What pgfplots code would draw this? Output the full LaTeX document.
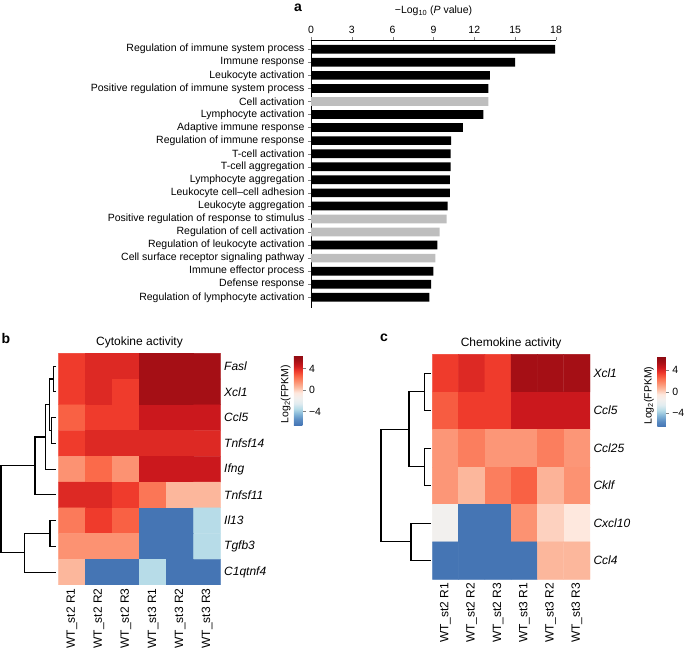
\documentclass[border=0pt]{standalone}
\usepackage{pgfplots}
\pgfplotsset{compat=1.18}
\usepackage{fontspec}
\setmainfont{Liberation Sans}

\definecolor{bargrey}{RGB}{190,190,190}
\definecolor{dendro}{RGB}{35,35,35}

\pgfplotsset{
  /pgf/number format/assume math mode=true,
  colormap={hm}{
    rgb255(0pt)=(69,117,180);   rgb255(10pt)=(90,140,195);
    rgb255(20pt)=(130,180,215); rgb255(30pt)=(183,220,232);
    rgb255(40pt)=(225,236,240); rgb255(50pt)=(242,240,238);
    rgb255(60pt)=(254,232,222); rgb255(70pt)=(252,187,161);
    rgb255(80pt)=(252,146,114); rgb255(90pt)=(251,106,74);
    rgb255(100pt)=(239,59,44);  rgb255(110pt)=(203,24,29);
    rgb255(120pt)=(165,15,21);  rgb255(130pt)=(140,10,18)},
  heat/.style={
    scale only axis,
    xmin=-0.5, xmax=5.5, y dir=reverse,
    axis line style={draw=none}, major tick length=0pt,
    xtick={0,...,5},
    xticklabels={WT\_st2 R1, WT\_st2 R2, WT\_st2 R3, WT\_st3 R1, WT\_st3 R2, WT\_st3 R3},
    xticklabel style={rotate=90, anchor=east, font=\fontsize{12}{14}\selectfont},
    yticklabel pos=right,
    yticklabel style={font=\fontsize{12}{14}\selectfont\itshape},
    title style={font=\fontsize{12}{14}\selectfont, yshift=-4pt},
    colormap name=hm, point meta min=-6.5, point meta max=6.5,
    colorbar, colorbar/width=8.5pt, colorbar shift/.style={},
  },
  cbar/.style={
    scale only axis, height=70pt,
    axis line style={draw=none},
    ytick={-4,0,4}, yticklabels={−4,0,4},
    ytick pos=right, yticklabel pos=right,
    tick align=outside, major tick length=3pt,
    yticklabel style={font=\fontsize{10.5}{12}\selectfont},
    ylabel={Log\textsubscript{2}(FPKM)},
    ylabel style={at={(axis description cs:0,0.5)}, anchor=south, xshift=-4pt,
      font=\fontsize{10.5}{12}\selectfont},
  },
  dendro/.style={scale only axis, hide axis, clip=false, y dir=reverse},
}

\begin{document}
\begin{tikzpicture}
\useasboundingbox (0,0) rectangle (685pt,651pt);

% panel labels
\node[font=\fontsize{14}{16}\selectfont\bfseries] at (298pt,643pt) {a};
\node[font=\fontsize{14}{16}\selectfont\bfseries] at (6pt,313pt) {b};
\node[font=\fontsize{14}{16}\selectfont\bfseries] at (384pt,313pt) {c};

% ---- a: GO terms
\begin{axis}[
  at={(311pt,611pt)}, anchor=north west,
  scale only axis, width=245pt, height=268pt,
  xmin=0, xmax=18, ymin=0.29, ymax=20.82, y dir=reverse,
  axis x line*=top, axis y line*=left,
  xtick={0,3,...,18}, ytick={1,...,20},
  yticklabels={Regulation of immune system process, Immune response,
    Leukocyte activation, Positive regulation of immune system process,
    Cell activation, Lymphocyte activation, Adaptive immune response,
    Regulation of immune response, T-cell activation, T-cell aggregation,
    Lymphocyte aggregation, Leukocyte cell--cell adhesion,
    Leukocyte aggregation, Positive regulation of response to stimulus,
    Regulation of cell activation, Regulation of leukocyte activation,
    Cell surface receptor signaling pathway, Immune effector process,
    Defense response, Regulation of lymphocyte activation},
  tick align=outside, major tick length=3pt,
  tick label style={font=\fontsize{10.5}{12}\selectfont},
  xlabel={−Log\textsubscript{10} (\textit{P} value)},
  xlabel style={font=\fontsize{10.5}{12}\selectfont, yshift=3pt},
  xbar, bar shift=0pt, bar width=8.7pt,
]
\addplot[fill=black, draw=none] coordinates {
  (17.93,1) (14.99,2) (13.15,3) (13.03,4) (12.66,6) (11.15,7) (10.29,8)
  (10.26,9) (10.26,10) (10.21,11) (10.21,12) (10.04,13) (9.28,16)
  (8.99,18) (8.82,19) (8.69,20)};
\addplot[fill=bargrey, draw=none] coordinates {
  (13.03,5) (9.97,14) (9.45,15) (9.13,17)};
\end{axis}

% ---- b: cytokine activity
\begin{axis}[heat,
  at={(58.3pt,297.7pt)}, anchor=north west,
  width=162.4pt, height=231.7pt,
  ymin=-0.5, ymax=8.5, ytick={0,...,8},
  yticklabels={Fasl, Xcl1, Ccl5, Tnfsf14, Ifng, Tnfsf11, Il13, Tgfb3, C1qtnf4},
  title={Cytokine activity},
  colorbar style={cbar, at={(parent axis.north east)}, anchor=north west,
    xshift=73.3pt, yshift=-1.7pt},
]
\addplot[matrix plot*, mesh/cols=6, point meta=explicit]
  table[x=x, y=y, meta=v, row sep=\\] {
x y v\\
0 0 3.5\\ 1 0 4\\ 2 0 4\\ 3 0 5.5\\ 4 0 5.5\\ 5 0 5.5\\
0 1 3.5\\ 1 1 4\\ 2 1 3.5\\ 3 1 5.5\\ 4 1 5.5\\ 5 1 5.5\\
0 2 2.7\\ 1 2 3.5\\ 2 2 3.5\\ 3 2 4.5\\ 4 2 4.5\\ 5 2 4.5\\
0 3 3.5\\ 1 3 4\\ 2 3 4\\ 3 3 4\\ 4 3 4\\ 5 3 4\\
0 4 1.5\\ 1 4 2.5\\ 2 4 1.5\\ 3 4 4.5\\ 4 4 4.5\\ 5 4 4.5\\
0 5 4\\ 1 5 4\\ 2 5 3.5\\ 3 5 2.2\\ 4 5 0.6\\ 5 5 0.6\\
0 6 2.1\\ 1 6 3.5\\ 2 6 2.7\\ 3 6 -6.5\\ 4 6 -6.5\\ 5 6 -3.5\\
0 7 1.5\\ 1 7 1.5\\ 2 7 1.5\\ 3 7 -6.5\\ 4 7 -6.5\\ 5 7 -3.5\\
0 8 0.6\\ 1 8 -6.5\\ 2 8 -6.5\\ 3 8 -3.5\\ 4 8 -6.5\\ 5 8 -6.5\\
};
\end{axis}

\begin{axis}[dendro,
  at={(0pt,297.7pt)}, anchor=north west,
  width=58.3pt, height=231.7pt,
  xmin=0, xmax=58.3, ymin=-0.5, ymax=8.5,
]
\addplot[dendro, line width=1.1pt] coordinates {(56,0) (53.3,0) (53.3,1) (56,1)};
\addplot[dendro, line width=1.1pt] coordinates {(56,2) (51.7,2) (51.7,3) (56,3)};
\addplot[dendro, line width=1.1pt] coordinates {(53.3,0.5) (49.3,0.5) (49.3,2.5) (51.7,2.5)};
\addplot[dendro, line width=1.1pt] coordinates {(49.3,1.5) (45.7,1.5) (45.7,4) (56,4)};
\addplot[dendro, line width=1.1pt] coordinates {(45.7,2.75) (35,2.75) (35,5) (56,5)};
\addplot[dendro, line width=1.1pt] coordinates {(56,6) (50,6) (50,7) (56,7)};
\addplot[dendro, line width=1.1pt] coordinates {(50,6.5) (24.3,6.5) (24.3,8) (56,8)};
\addplot[dendro, line width=1.1pt] coordinates {(35,3.875) (1,3.875) (1,7.25) (24.3,7.25)};
\end{axis}

% ---- c: chemokine activity
\begin{axis}[heat,
  at={(432.3pt,296.7pt)}, anchor=north west,
  width=157.7pt, height=225pt,
  ymin=-0.5, ymax=5.5, ytick={0,...,5},
  yticklabels={Xcl1, Ccl5, Ccl25, Cklf, Cxcl10, Ccl4},
  title={Chemokine activity},
  colorbar style={cbar, at={(parent axis.north east)}, anchor=north west,
    xshift=67.3pt, yshift=-2.4pt},
]
\addplot[matrix plot*, mesh/cols=6, point meta=explicit]
  table[x=x, y=y, meta=v, row sep=\\] {
x y v\\
0 0 3.5\\ 1 0 4\\ 2 0 3.5\\ 3 0 5.5\\ 4 0 5.5\\ 5 0 5.5\\
0 1 2.8\\ 1 1 3.5\\ 2 1 3.5\\ 3 1 4.5\\ 4 1 4.5\\ 5 1 4.5\\
0 2 1.4\\ 1 2 2\\ 2 2 1.4\\ 3 2 1.4\\ 4 2 2\\ 5 2 1.4\\
0 3 1.4\\ 1 3 0.6\\ 2 3 2\\ 3 3 2.7\\ 4 3 0.7\\ 5 3 1.5\\
0 4 -1.5\\ 1 4 -6.5\\ 2 4 -6.5\\ 3 4 1.5\\ 4 4 0\\ 5 4 -0.5\\
0 5 -6.5\\ 1 5 -6.5\\ 2 5 -6.5\\ 3 5 -6.5\\ 4 5 0.6\\ 5 5 0.6\\
};
\end{axis}

\begin{axis}[dendro,
  at={(375pt,296.7pt)}, anchor=north west,
  width=57.3pt, height=225pt,
  xmin=375, xmax=432.3, ymin=-0.5, ymax=5.5,
]
\addplot[dendro, line width=1.1pt] coordinates {(431,0) (424.3,0) (424.3,1) (431,1)};
\addplot[dendro, line width=1.1pt] coordinates {(431,2) (424.3,2) (424.3,3) (431,3)};
\addplot[dendro, line width=1.1pt] coordinates {(424.3,0.5) (409,0.5) (409,2.5) (424.3,2.5)};
\addplot[dendro, line width=1.1pt] coordinates {(431,4) (411,4) (411,5) (431,5)};
\addplot[dendro, line width=1.1pt] coordinates {(409,1.5) (381,1.5) (381,4.5) (411,4.5)};
\end{axis}
\end{tikzpicture}
\end{document}
